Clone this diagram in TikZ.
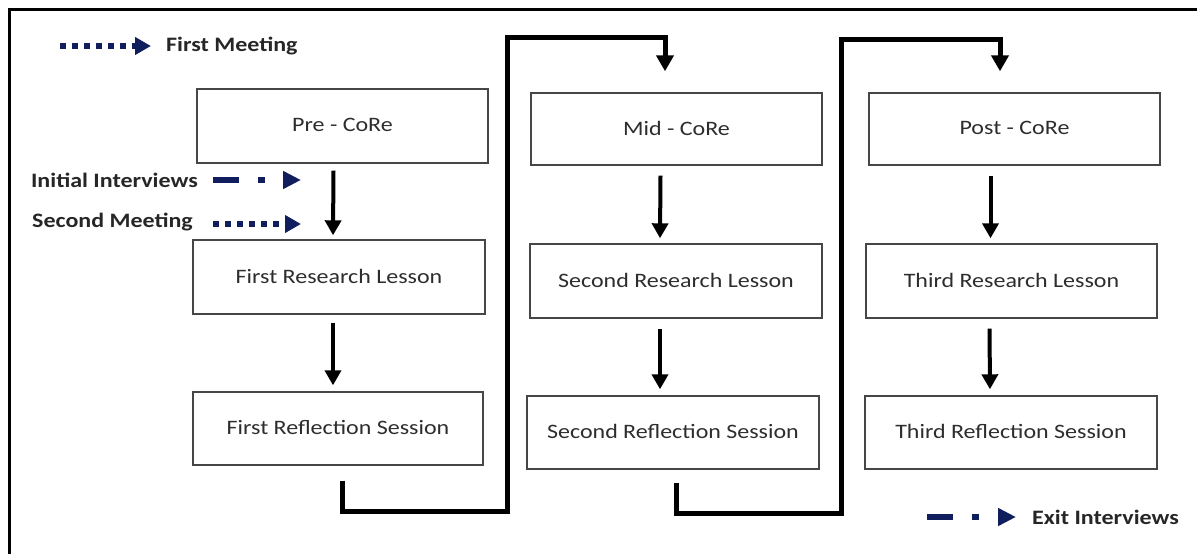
\documentclass[tikz,border=0pt]{standalone}
\usepackage{fontspec}
\setmainfont{Carlito}[FakeStretch=1.17]
\usetikzlibrary{arrows.meta}
\definecolor{navy}{RGB}{16,30,94}
\definecolor{boxtext}{RGB}{45,45,45}
\definecolor{boxline}{RGB}{70,70,70}
\tikzset{
  stagebox/.style={draw=boxline, line width=1.4pt, minimum width=291pt, minimum height=73pt,
    inner sep=0pt, text=boxtext, font=\fontsize{20.5}{24}\selectfont},
  legtext/.style={inner sep=0pt, text=black!85, font=\bfseries\fontsize{20.5}{24}\selectfont},
  downarr/.style={line width=4pt, -{Triangle[width=16pt,length=15pt]}},
  conn/.style={line width=5pt, miter limit=10, -{Triangle[width=17pt,length=16pt]}},
  dotarr/.style={navy, line width=6pt, dash pattern=on 6pt off 6pt, -{Triangle[width=17pt,length=16pt]}},
  dasharr/.style={navy, line width=6pt, dash pattern=on 26pt off 19pt on 7pt off 40pt, -{Triangle[width=17pt,length=18pt]}},
}
\begin{document}
\begin{tikzpicture}[x=1pt,y=-1pt]
\useasboundingbox (0,0) rectangle (1197,554);
% outer frame (partly cropped)
\draw[line width=3pt] (9.5,560) -- (9.5,9.5) -- (1205,9.5);

% boxes
\node[stagebox, minimum width=291pt, minimum height=74pt] (pre) at (342.5,126) {\raisebox{2pt}{Pre - CoRe}};
\node[stagebox, minimum width=292pt, minimum height=74pt] (frl) at (339,277) {\raisebox{2pt}{First Research Lesson}};
\node[stagebox, minimum width=290pt, minimum height=73pt] (frs) at (338,428.5) {\raisebox{2pt}{First Reflection Session}};
\node[stagebox, minimum width=291pt, minimum height=72pt] (mid) at (676.5,129) {\raisebox{2pt}{Mid - CoRe}};
\node[stagebox, minimum width=292pt, minimum height=74pt] (srl) at (676,281) {\raisebox{2pt}{Second Research Lesson}};
\node[stagebox, minimum width=292pt, minimum height=73pt] (srs) at (673,432.5) {\raisebox{2pt}{Second Reflection Session}};
\node[stagebox, minimum width=291pt, minimum height=72pt] (post) at (1014.5,129) {\raisebox{2pt}{Post - CoRe}};
\node[stagebox, minimum width=291pt, minimum height=74pt] (trl) at (1011.5,281) {\raisebox{2pt}{Third Research Lesson}};
\node[stagebox, minimum width=292pt, minimum height=73pt] (trs) at (1011,432.5) {\raisebox{2pt}{Third Reflection Session}};

% vertical arrows
\draw[downarr] ([xshift=-9pt,yshift=-7pt]pre.south) -- ([xshift=-6pt,yshift=4pt]frl.north);
\draw[downarr] ([xshift=-6pt,yshift=-8pt]frl.south) -- ([xshift=-5pt,yshift=6pt]frs.north);
\draw[downarr] ([xshift=-16pt,yshift=-10pt]mid.south) -- ([xshift=-16pt,yshift=5pt]srl.north);
\draw[downarr] ([xshift=-16pt,yshift=-10pt]srl.south) -- ([xshift=-13pt,yshift=6pt]srs.north);
\draw[downarr] ([xshift=-24pt,yshift=-10pt]post.south) -- ([xshift=-21pt,yshift=5pt]trl.north);
\draw[downarr] ([xshift=-22pt,yshift=-10pt]trl.south) -- ([xshift=-21pt,yshift=6pt]trs.north);

% connectors between columns
\draw[conn] ([xshift=4pt,yshift=-15pt]frs.south) |- (507,511) -- (507,37) -| ([xshift=-11.5pt,yshift=21pt]mid.north);
\draw[conn] ([xshift=3pt,yshift=-13pt]srs.south) |- (841,513) -- (841,39.5) -| ([xshift=-14.5pt,yshift=21pt]post.north);

% legend
\node[legtext, anchor=west] (lfm) at (166,46) {First Meeting};
\coordinate (lfms) at (60,46);
\draw[dotarr] (lfms) -- ([xshift=-15pt]lfm.west);

\node[legtext, anchor=east] (lii) at (198,180) {Initial Interviews};
\coordinate (liie) at (301,180);
\draw[dasharr] ([xshift=15pt]lii.east) -- (liie);

\node[legtext, anchor=east] (lsm) at (193,222) {Second Meeting};
\coordinate (lsme) at (301,224);
\draw[dotarr] ([xshift=20pt,yshift=-2pt]lsm.east) -- (lsme);

\node[legtext, anchor=west] (lei) at (1032,517) {Exit Interviews};
\coordinate (leis) at (927,517);
\draw[dasharr] (leis) -- ([xshift=-16pt]lei.west);
\end{tikzpicture}
\end{document}
